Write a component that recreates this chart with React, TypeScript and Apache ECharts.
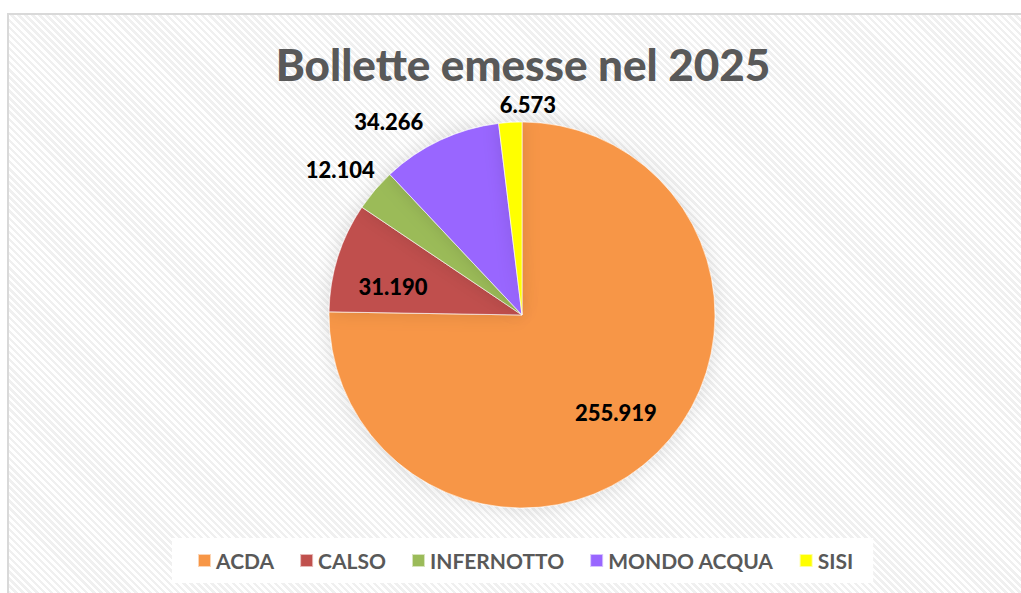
import React, { useEffect, useRef } from "react";
import * as echarts from "echarts";

const categories = ["ACDA", "CALSO", "INFERNOTTO", "MONDO ACQUA", "SISI"];
const values = [255919, 31190, 12104, 34266, 6573];
const colors = ["#F79646", "#C0504D", "#9BBB59", "#9966FF", "#FFFF00"];
const labelOffsets = [[24, 27], [-34, 1], [-106, -81], [-91, -103], [12, -111]];
const titleText = "Bollette emesse nel 2025";

const fmt = (v: number) => String(v).replace(/\B(?=(\d{3})+(?!\d))/g, ".");

export default function App() {
  const ref = useRef<HTMLDivElement>(null);
  useEffect(() => {
    if (!ref.current) return;
    const chart = echarts.init(ref.current, undefined, { renderer: "svg" });
    chart.setOption({
      animation: false,
      title: {
        text: titleText,
        left: 518,
        top: 37,
        textAlign: "center",
        textStyle: { fontFamily: "Lato", fontWeight: 900, fontSize: 44, color: "#595959" },
      },
      legend: {
        data: categories,
        left: 172,
        top: 538,
        padding: [12, 20, 12, 25],
        backgroundColor: "#ffffff",
        icon: "rect",
        itemWidth: 13,
        itemHeight: 13,
        itemGap: 25,
        textStyle: { fontFamily: "Lato", fontWeight: "bold", fontSize: 21, color: "#595959" },
      },
      series: [
        {
          type: "pie",
          center: [522, 315],
          radius: 193,
          startAngle: 90,
          clockwise: true,
          itemStyle: {
            borderColor: "rgba(255,255,255,0.6)",
            borderWidth: 1,
            shadowColor: "rgba(0,0,0,0.12)",
            shadowBlur: 18,
          },
          label: {
            show: true,
            position: "inside",
            formatter: (p: any) => fmt(p.value),
            fontFamily: "Lato",
            fontWeight: 900,
            fontSize: 22,
            color: "#000000",
          },
          labelLine: { show: false },
          emphasis: { disabled: true },
          data: categories.map((c, i) => ({
            name: c,
            value: values[i],
            itemStyle: { color: colors[i] },
            label: { offset: labelOffsets[i] },
          })),
        },
      ],
    });
    return () => chart.dispose();
  }, []);

  return (
    <div style={{ position: "absolute", left: 0, top: 0, width: 1021, height: 593, overflow: "hidden", background: "#ffffff" }}>
      <div
        style={{
          position: "absolute",
          left: 7,
          top: 13,
          width: 1100,
          height: 700,
          boxSizing: "border-box",
          border: "2px solid #d9d9d9",
          background: "repeating-linear-gradient(45deg, #ffffff 0px, #ffffff 2.5px, #f0f0f0 2.5px, #f0f0f0 5px)",
        }}
      />
      <div ref={ref} style={{ position: "absolute", left: 0, top: 0, width: 1021, height: 593 }} />
    </div>
  );
}
